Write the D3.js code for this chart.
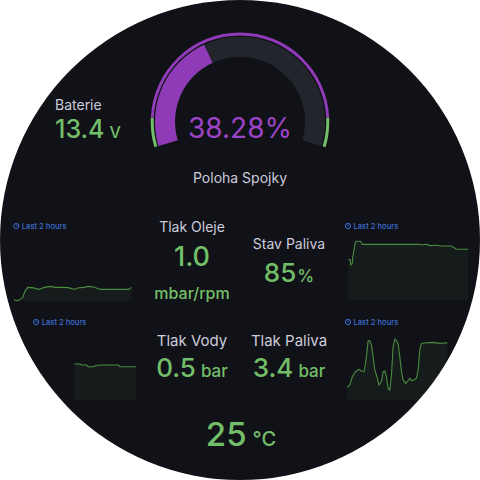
<!DOCTYPE html>
<html><head><meta charset="utf-8">
<script src="https://cdn.jsdelivr.net/npm/d3@7/dist/d3.min.js"></script>
<style>html,body{margin:0;padding:0;background:#fff;}svg{display:block;font-family:Inter,"Noto Sans",sans-serif;}</style>
</head><body>
<svg id="c" width="480" height="480"></svg>
<script>
// ---- data ----
const gaugeValue = 38.28;            // Poloha Spojky (%)
const gaugeMin = 0, gaugeMax = 100;
const gaugeThresholds = [            // [from, to, colour]
  [0, 9, "#73bf69"], [9, 91, "#8f3bb8"], [91, 100, "#73bf69"]
];
const statTitles = ["Baterie", "Tlak Oleje", "Stav Paliva", "Tlak Vody", "Tlak Paliva", "Teplota"];
const statValues = ["13.4", "1.0", "85", "0.5", "3.4", "25"];
const statUnits  = ["V", "mbar/rpm", "%", "bar", "bar", "°C"];
const timeLabel = "Last 2 hours";

// sparkline series: [minute, value]
const oilMinutes = [0,4,6,9,11,14,19,25,28,31,37,42,50,55,59,61,65,71,76,81,84,88,98,108,117,120];
const oilValues  = [0.40,0.37,0.43,0.53,0.82,1.03,1.02,0.93,0.97,1.03,1.08,1.03,1.03,1.02,0.97,0.93,1.00,1.03,1.08,1.05,1.00,0.93,0.93,0.93,0.93,1.03];
const fuelMinutes = [0,2,2.5,4,4.5,6,7,8,12,13,14,25,42,58,72,73,77,79,82,86,89,92,103,105,108,112,120];
const fuelValues  = [61.8,60.7,53.1,55.7,65.8,78.4,87.6,89.1,89.1,87.6,84.5,84.5,84.5,84.5,84.5,83.5,84.5,84,82.5,83,83,82,82,80,77.4,77,77];
const waterMinutes = [47.4,54.1,56.1,62,63.9,70.6,71.8,77.6,99.2,101.2,120];
const waterValues  = [0.514,0.514,0.5,0.5,0.476,0.476,0.49,0.5,0.5,0.476,0.476];
const fuelPMinutes = [0,3,6,10,14,17,20,22,25,27,29,31,33,36,38,41,43,45,47,49,51,53,55,57,59,61,63,65,67,70,73,75,77,80,83,85,87,89,95,103,111,119,120];
const fuelPValues  = [0.75,0.89,1.38,1.68,1.82,1.72,1.68,2.18,3.50,3.52,3.26,2.57,1.78,1.29,0.89,1.09,1.68,1.72,1.38,0.69,0.59,1.48,3.16,3.60,3.52,3.32,2.57,1.68,1.19,0.99,1.15,1.29,1.15,1.19,1.29,1.78,2.97,3.36,3.40,3.42,3.36,3.40,3.36];

// ---- drawing ----
const svg = d3.select("#c");
const W = 480, H = 480;
svg.append("clipPath").attr("id","circ").append("circle").attr("cx",240).attr("cy",240).attr("r",240);
svg.append("rect").attr("width",W).attr("height",H).attr("fill","#ffffff");
const g = svg.append("g").attr("clip-path","url(#circ)");
g.append("rect").attr("width",W).attr("height",H).attr("fill","#111217");

const green = "#73bf69", textCol = "#ccccdc";

// Gauge
const deg = Math.PI/180;
const aScale = d3.scaleLinear().domain([gaugeMin, gaugeMax]).range([-106.6*deg, 106.6*deg]);
const gauge = g.append("g").attr("transform","translate(240,121.7)");
const bandArc = d3.arc().innerRadius(65).outerRadius(85);
const ringArc = d3.arc().innerRadius(86.3).outerRadius(89.3);
gauge.append("path").attr("d", bandArc({startAngle: aScale(gaugeMin), endAngle: aScale(gaugeMax)})).attr("fill","#22252b");
gauge.append("path").attr("d", bandArc({startAngle: aScale(gaugeMin), endAngle: aScale(gaugeValue)})).attr("fill","#8f3bb8");
gaugeThresholds.forEach(t => {
  gauge.append("path").attr("d", ringArc({startAngle: aScale(t[0]), endAngle: aScale(t[1])})).attr("fill", t[2]);
});
g.append("text").attr("x",240).attr("y",138).attr("text-anchor","middle")
  .attr("font-size",28).attr("fill","#9d44c8").attr("font-weight",400).text(gaugeValue.toFixed(2)+"%");
g.append("text").attr("x",240).attr("y",183).attr("text-anchor","middle")
  .attr("font-size",14).attr("fill",textCol).text("Poloha Spojky");

// Stats
function stat(i, x, anchor, yTitle, yVal, vSize, uSize, titleSize, gap, uNewLine, yUnit) {
  if (statTitles[i] && yTitle != null) {
    g.append("text").attr("x",x).attr("y",yTitle).attr("text-anchor",anchor)
      .attr("font-size",titleSize).attr("fill",textCol).text(statTitles[i]);
  }
  const t = g.append("text").attr("x",x).attr("y",yVal).attr("text-anchor",anchor)
    .attr("fill",green).attr("font-weight",500);
  t.append("tspan").attr("font-size",vSize).text(statValues[i]);
  if (!uNewLine) t.append("tspan").attr("font-size",uSize).attr("dx",gap).text(statUnits[i]);
  else g.append("text").attr("x",x).attr("y",yUnit).attr("text-anchor",anchor)
    .attr("fill",green).attr("font-weight",500).attr("font-size",uSize).text(statUnits[i]);
}
stat(0, 55, "start", 110, 138.3, 25, 16, 14, 5);
stat(1, 192, "middle", 232, 266, 27, 16, 14, 0, true, 299);
stat(2, 289, "middle", 249, 282, 26, 17, 14, 1);
stat(3, 192, "middle", 346, 377, 26, 17, 15, 5);
stat(4, 289, "middle", 346, 377, 26, 17, 15, 5);
stat(5, 241, "middle", null, 446, 33, 20, 14, 6);

// Sparklines
function spark(mins, vals, x0, x1, yBottom, yDomain, yRange, labelX, labelY) {
  const xs = d3.scaleLinear().domain([0,120]).range([x0,x1]);
  const ys = d3.scaleLinear().domain(yDomain).range(yRange);
  const data = mins.map((m,k)=>[m, vals[k]]);
  g.append("path").datum(data)
    .attr("d", d3.area().x(d=>xs(d[0])).y0(yBottom).y1(d=>ys(d[1])))
    .attr("fill","rgba(115,191,105,0.055)");
  g.append("path").datum(data)
    .attr("d", d3.line().x(d=>xs(d[0])).y(d=>ys(d[1])))
    .attr("fill","none").attr("stroke","#4a8c40").attr("stroke-width",1.1);
  // label
  const lb = g.append("g").attr("transform",`translate(${labelX},${labelY})`);
  lb.append("circle").attr("cx",0).attr("cy",0).attr("r",2.6).attr("fill","none").attr("stroke","#3d6fd6").attr("stroke-width",1);
  lb.append("path").attr("d","M0,-1.6V0H1.3").attr("fill","none").attr("stroke","#3d6fd6").attr("stroke-width",0.8);
  lb.append("text").attr("x",5.5).attr("y",2.7).attr("font-size",7.6).attr("font-weight",500)
    .attr("fill","#3d6fd6").text(timeLabel);
}
// y mapping: value -> pixel using linear scales
spark(oilMinutes, oilValues, 14, 131.7, 301, [0.4, 1.0], [300, 288], 16.3, 226);
spark(fuelMinutes, fuelValues, 348.3, 468.3, 300, [0, 85], [300, 244], 348, 226);
spark(waterMinutes, waterValues, 34, 136, 400, [0, 0.5], [400, 365], 36.2, 322);
spark(fuelPMinutes, fuelPValues, 347.3, 447.3, 400, [0, 3.4], [400, 342.7], 348, 322);
</script>
</body></html>
